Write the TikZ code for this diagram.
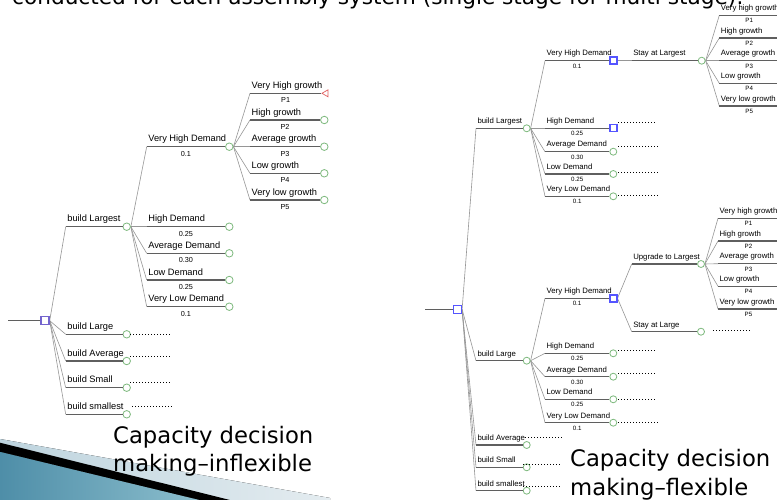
\documentclass[tikz,border=0pt]{standalone}
\usepackage{fontspec}
\setmainfont{Liberation Sans}
\newfontfamily\slidefont[Ligatures=TeX]{DejaVu Sans}
\usetikzlibrary{shapes.geometric}

\pgfdeclarelayer{back}
\pgfsetlayers{back,main}

\definecolor{linegray}{RGB}{95,95,95}
\definecolor{diaggray}{RGB}{150,150,150}
\definecolor{chancegreen}{RGB}{125,185,125}
\definecolor{choiceblue}{RGB}{85,85,255}
\definecolor{rootpurple}{RGB}{115,100,205}
\definecolor{endred}{RGB}{225,95,95}
\definecolor{tealdark}{RGB}{78,142,168}
\definecolor{teallight}{RGB}{140,190,205}
\definecolor{palegrid}{RGB}{190,212,222}
\definecolor{palegridlight}{RGB}{228,236,240}

\tikzset{
  hline/.style={draw=linegray,line width=1.3bp},
  diag/.style={draw=diaggray,line width=0.6bp},
  dots/.style={draw=black,line width=0.9bp,dash pattern=on 0.9bp off 2.1bp},
  chance/.style={circle,draw=chancegreen,fill=white,line width=0.8bp,inner sep=0pt,minimum size=7bp},
  choice/.style={rectangle,draw=choiceblue,fill=white,line width=1.4bp,inner sep=0pt,minimum size=7bp},
  endtri/.style={isosceles triangle,shape border rotate=180,isosceles triangle apex angle=60,
    draw=endred,fill=white,line width=0.7bp,inner sep=0pt,minimum height=6bp,minimum width=7bp},
  lab/.style={pos=0,anchor=south west,inner xsep=1bp},
  val/.style={pos=0.5,anchor=north,inner xsep=0pt},
  caption/.style={anchor=base west,inner sep=0pt,font=\slidefont\fontsize{22.8}{28}\selectfont}
}

\begin{document}
\begin{tikzpicture}[x=1bp,y=-1bp]
\useasboundingbox (0,0) rectangle (777,500);

\begin{pgfonlayer}{back}
\fill[white] (0,0) rectangle (777,500);
% slide decoration, bottom left
\fill[left color=palegrid,right color=palegridlight] (0,439) -- (330,498) -- (330,500) -- (0,500) -- cycle;
\fill[left color=tealdark,right color=teallight] (0,451.7) -- (200,500) -- (0,500) -- cycle;
\fill[black] (0,442.7) -- (230,500) -- (200,500) -- (0,451.7) -- cycle;
\end{pgfonlayer}

% heading, cut at the top
\node[anchor=base west,inner sep=0pt,font=\slidefont\fontsize{21.7}{26}\selectfont] (heading) at (12,5)
  {conducted for each assembly system (single stage for multi stage):};

%% ---------------- inflexible tree ----------------
\begin{scope}[lab/.append style={font=\fontsize{9.3}{11}\selectfont,inner ysep=2.3bp,text height=6.7bp,text depth=2bp},
              val/.append style={font=\fontsize{7.3}{9}\selectfont,inner ysep=3.8bp,text height=5.2bp,text depth=0pt}]

  \node[choice,draw=rootpurple,minimum size=8bp] (l-root) at (45,320.7) {};
  \coordinate (l-in) at (8,320.7);

  \coordinate (l-lst-s) at (65.7,226.7);
  \coordinate (l-lrg-s) at (65.7,334.3);
  \coordinate (l-avg-s) at (65.7,361);
  \coordinate (l-sml-s) at (65.7,387.7);
  \coordinate (l-smt-s) at (65.7,414.3);

  \coordinate (l-vhd-s) at (146.7,146.7);
  \coordinate (l-hd-s)  at (146.7,226.7);
  \coordinate (l-ad-s)  at (146.7,253.3);
  \coordinate (l-ld-s)  at (146.7,280);
  \coordinate (l-vld-s) at (146.7,306.7);

  \coordinate (l-g1-s) at (250,93.3);
  \coordinate (l-g2-s) at (250,120);
  \coordinate (l-g3-s) at (250,146.7);
  \coordinate (l-g4-s) at (250,173.3);
  \coordinate (l-g5-s) at (250,200);

  \begin{scope}[every node/.style={chance,minimum size=7.5bp}]
    \node (l-lst) at (126.7,226.7) {};
    \node (l-lrg) at (126.7,334.3) {};
    \node (l-avg) at (126.7,361)   {};
    \node (l-sml) at (126.7,387.7) {};
    \node (l-smt) at (126.7,414.3) {};
    \node (l-vhd) at (229.3,146.7) {};
    \node (l-hd)  at (229.3,226.7) {};
    \node (l-ad)  at (229.3,253.3) {};
    \node (l-ld)  at (229.3,280)   {};
    \node (l-vld) at (229.3,306.7) {};
    \node (l-g2)  at (324.3,120)   {};
    \node (l-g3)  at (324.3,146.7) {};
    \node (l-g4)  at (324.3,173.3) {};
    \node (l-g5)  at (324.3,200)   {};
  \end{scope}
  \node[endtri] (l-g1) at (326,93.3) {};

  \begin{pgfonlayer}{back}
  \begin{scope}[every path/.style={diag}]
    \draw (l-root.east) -- (l-lst-s);
    \draw (l-root.east) -- (l-lrg-s);
    \draw (l-root.east) -- (l-avg-s);
    \draw (l-root.east) -- (l-sml-s);
    \draw (l-root.east) -- (l-smt-s);
    \draw (l-lst.east) -- (l-vhd-s);
    \draw (l-lst.east) -- (l-hd-s);
    \draw (l-lst.east) -- (l-ad-s);
    \draw (l-lst.east) -- (l-ld-s);
    \draw (l-lst.east) -- (l-vld-s);
    \draw (l-vhd.east) -- (l-g1-s);
    \draw (l-vhd.east) -- (l-g2-s);
    \draw (l-vhd.east) -- (l-g3-s);
    \draw (l-vhd.east) -- (l-g4-s);
    \draw (l-vhd.east) -- (l-g5-s);
  \end{scope}
  \end{pgfonlayer}

  \begin{scope}[every edge/.style={hline}]
    \path (l-in) edge (l-root);
    \path (l-lst-s) edge node[lab] {build Largest} (l-lst);
    \path (l-lrg-s) edge node[lab] {build Large} (l-lrg);
    \path (l-avg-s) edge node[lab] {build Average} (l-avg);
    \path (l-sml-s) edge node[lab] {build Small} (l-sml);
    \path (l-smt-s) edge node[lab] {build smallest} (l-smt);
    \path (l-vhd-s) edge node[lab] {Very High Demand} node[val] {0.1}  (l-vhd);
    \path (l-hd-s)  edge node[lab] {High Demand}      node[val] {0.25} (l-hd);
    \path (l-ad-s)  edge node[lab] {Average Demand}   node[val] {0.30} (l-ad);
    \path (l-ld-s)  edge node[lab] {Low Demand}       node[val] {0.25} (l-ld);
    \path (l-vld-s) edge node[lab] {Very Low Demand}  node[val] {0.1}  (l-vld);
    \path (l-g1-s) edge node[lab] {Very High growth} node[val] {P1} (l-g1);
    \path (l-g2-s) edge node[lab] {High growth}      node[val] {P2} (l-g2);
    \path (l-g3-s) edge node[lab] {Average growth}   node[val] {P3} (l-g3);
    \path (l-g4-s) edge node[lab] {Low growth}       node[val] {P4} (l-g4);
    \path (l-g5-s) edge node[lab] {Very low growth}  node[val] {P5} (l-g5);
  \end{scope}

  % branches left open
  \coordinate (l-d1a) at (130,334);   \coordinate (l-d1b) at (170,334);
  \coordinate (l-d2a) at (130,356.7); \coordinate (l-d2b) at (170,356.7);
  \coordinate (l-d3a) at (130,382.3); \coordinate (l-d3b) at (170,382.3);
  \coordinate (l-d4a) at (132,406.7); \coordinate (l-d4b) at (172,406.7);
  \draw[dots] (l-d1a) -- (l-d1b);
  \draw[dots] (l-d2a) -- (l-d2b);
  \draw[dots] (l-d3a) -- (l-d3b);
  \draw[dots] (l-d4a) -- (l-d4b);
\end{scope}

\node[caption] (cap-l1) at (113,443.3) {Capacity decision};
\node[caption] (cap-l2) at (113,471)   {making--inflexible};

%% ---------------- flexible tree ----------------
\begin{scope}[hline/.append style={line width=1.2bp},
              lab/.append style={font=\fontsize{7.8}{9}\selectfont,inner ysep=2.4bp,text height=5.6bp,text depth=1.7bp},
              val/.append style={font=\fontsize{6.2}{7}\selectfont,inner ysep=2.6bp,text height=4.4bp,text depth=0pt}]

  \coordinate (r-in) at (425,309.3);

  \coordinate (r-lst-s) at (476,128.3);
  \coordinate (r-lrg-s) at (476,360.7);
  \coordinate (r-avg-s) at (476,445);
  \coordinate (r-sml-s) at (476,467.3);
  \coordinate (r-smt-s) at (476,490.7);

  % under build Largest
  \coordinate (a-vhd-s) at (545,60.7);
  \coordinate (a-hd-s)  at (545,128.3);
  \coordinate (a-ad-s)  at (545,151.7);
  \coordinate (a-ld-s)  at (545,174);
  \coordinate (a-vld-s) at (545,196.3);
  \coordinate (a-st-s)  at (631.7,60.7);
  \coordinate (a-g1-s) at (719.3,15.3);  \coordinate (a-g1) at (779,15.3);
  \coordinate (a-g2-s) at (719.3,38);    \coordinate (a-g2) at (779,38);
  \coordinate (a-g3-s) at (719.3,60.7);  \coordinate (a-g3) at (779,60.7);
  \coordinate (a-g4-s) at (719.3,83.3);  \coordinate (a-g4) at (779,83.3);
  \coordinate (a-g5-s) at (719.3,106);   \coordinate (a-g5) at (779,106);

  % under build Large
  \coordinate (b-vhd-s) at (545,298.3);
  \coordinate (b-hd-s)  at (545,353.3);
  \coordinate (b-ad-s)  at (545,376.7);
  \coordinate (b-ld-s)  at (545,399.3);
  \coordinate (b-vld-s) at (545,422.7);
  \coordinate (b-up-s)  at (631.7,264);
  \coordinate (b-st-s)  at (631.7,331.7);
  \coordinate (b-g1-s) at (718,218.3); \coordinate (b-g1) at (779,218.3);
  \coordinate (b-g2-s) at (718,241);   \coordinate (b-g2) at (779,241);
  \coordinate (b-g3-s) at (718,263.7); \coordinate (b-g3) at (779,263.7);
  \coordinate (b-g4-s) at (718,286.3); \coordinate (b-g4) at (779,286.3);
  \coordinate (b-g5-s) at (718,309);   \coordinate (b-g5) at (779,309);

  \begin{scope}[every node/.style={chance}]
    \node (r-lst) at (526.7,128.3) {};
    \node (r-lrg) at (526.7,360.7) {};
    \node (r-avg) at (526.7,445)   {};
    \node (r-sml) at (526.7,467.3) {};
    \node (r-smt) at (526.7,490.7) {};
    \node (a-ad)  at (613.3,151.7) {};
    \node (a-ld)  at (613.3,174)   {};
    \node (a-vld) at (613.3,196.3) {};
    \node (a-st)  at (701.7,60.7)  {};
    \node (b-hd)  at (613.3,353.3) {};
    \node (b-ad)  at (613.3,376.7) {};
    \node (b-ld)  at (613.3,399.3) {};
    \node (b-vld) at (613.3,422.7) {};
    \node (b-up)  at (701,264)     {};
    \node (b-st)  at (701,331.7)   {};
  \end{scope}

  \begin{scope}[every node/.style={choice}]
    \node[minimum size=8bp,line width=1.6bp] (r-root) at (457.3,309.3) {};
    \node (a-vhd) at (613.3,60.7)  {};
    \node (a-hd)  at (613.3,128.3) {};
    \node (b-vhd) at (613.3,298.3) {};
  \end{scope}

  \begin{pgfonlayer}{back}
  \begin{scope}[every path/.style={diag}]
    \draw (r-root.east) -- (r-lst-s);
    \draw (r-root.east) -- (r-lrg-s);
    \draw (r-root.east) -- (r-avg-s);
    \draw (r-root.east) -- (r-sml-s);
    \draw (r-root.east) -- (r-smt-s);
    \draw (r-lst.east) -- (a-vhd-s);
    \draw (r-lst.east) -- (a-hd-s);
    \draw (r-lst.east) -- (a-ad-s);
    \draw (r-lst.east) -- (a-ld-s);
    \draw (r-lst.east) -- (a-vld-s);
    \draw (a-vhd.east) -- (a-st-s);
    \draw (a-st.east) -- (a-g1-s);
    \draw (a-st.east) -- (a-g2-s);
    \draw (a-st.east) -- (a-g3-s);
    \draw (a-st.east) -- (a-g4-s);
    \draw (a-st.east) -- (a-g5-s);
    \draw (r-lrg.east) -- (b-vhd-s);
    \draw (r-lrg.east) -- (b-hd-s);
    \draw (r-lrg.east) -- (b-ad-s);
    \draw (r-lrg.east) -- (b-ld-s);
    \draw (r-lrg.east) -- (b-vld-s);
    \draw (b-vhd.east) -- (b-up-s);
    \draw (b-vhd.east) -- (b-st-s);
    \draw (b-up.east) -- (b-g1-s);
    \draw (b-up.east) -- (b-g2-s);
    \draw (b-up.east) -- (b-g3-s);
    \draw (b-up.east) -- (b-g4-s);
    \draw (b-up.east) -- (b-g5-s);
  \end{scope}
  \end{pgfonlayer}

  \begin{scope}[every edge/.style={hline}]
    \path (r-in) edge (r-root);
    \path (r-lst-s) edge node[lab] {build Largest} (r-lst);
    \path (r-lrg-s) edge node[lab] {build Large} (r-lrg);
    \path (r-avg-s) edge node[lab] {build Average} (r-avg);
    \path (r-sml-s) edge node[lab] {build Small} (r-sml);
    \path (r-smt-s) edge node[lab] {build smallest} (r-smt);

    \path (a-vhd-s) edge node[lab] {Very High Demand} node[val] {0.1}  (a-vhd);
    \path (a-hd-s)  edge node[lab] {High Demand}      node[val] {0.25} (a-hd);
    \path (a-ad-s)  edge node[lab] {Average Demand}   node[val] {0.30} (a-ad);
    \path (a-ld-s)  edge node[lab] {Low Demand}       node[val] {0.25} (a-ld);
    \path (a-vld-s) edge node[lab] {Very Low Demand}  node[val] {0.1}  (a-vld);
    \path (a-st-s)  edge node[lab] {Stay at Largest} (a-st);
    \path (a-g1-s) edge node[lab] {Very high growth} node[val] {P1} (a-g1);
    \path (a-g2-s) edge node[lab] {High growth}      node[val] {P2} (a-g2);
    \path (a-g3-s) edge node[lab] {Average growth}   node[val] {P3} (a-g3);
    \path (a-g4-s) edge node[lab] {Low growth}       node[val] {P4} (a-g4);
    \path (a-g5-s) edge node[lab] {Very low growth}  node[val] {P5} (a-g5);

    \path (b-vhd-s) edge node[lab] {Very High Demand} node[val] {0.1}  (b-vhd);
    \path (b-hd-s)  edge node[lab] {High Demand}      node[val] {0.25} (b-hd);
    \path (b-ad-s)  edge node[lab] {Average Demand}   node[val] {0.30} (b-ad);
    \path (b-ld-s)  edge node[lab] {Low Demand}       node[val] {0.25} (b-ld);
    \path (b-vld-s) edge node[lab] {Very Low Demand}  node[val] {0.1}  (b-vld);
    \path (b-up-s)  edge node[lab] {Upgrade to Largest} (b-up);
    \path (b-st-s)  edge node[lab] {Stay at Large} (b-st);
    \path (b-g1-s) edge node[lab] {Very high growth} node[val] {P1} (b-g1);
    \path (b-g2-s) edge node[lab] {High growth}      node[val] {P2} (b-g2);
    \path (b-g3-s) edge node[lab] {Average growth}   node[val] {P3} (b-g3);
    \path (b-g4-s) edge node[lab] {Low growth}       node[val] {P4} (b-g4);
    \path (b-g5-s) edge node[lab] {Very low growth}  node[val] {P5} (b-g5);
  \end{scope}

  % branches left open
  \coordinate (r-d1a) at (618,122.7);   \coordinate (r-d1b) at (657,122.7);
  \coordinate (r-d2a) at (618,146);     \coordinate (r-d2b) at (658,146);
  \coordinate (r-d3a) at (618,172);     \coordinate (r-d3b) at (658,172);
  \coordinate (r-d4a) at (618,195);     \coordinate (r-d4b) at (658,195);
  \coordinate (r-d5a) at (713,330.7);   \coordinate (r-d5b) at (751.7,330.7);
  \coordinate (r-d6a) at (618,350.7);   \coordinate (r-d6b) at (657,350.7);
  \coordinate (r-d7a) at (618,373.3);   \coordinate (r-d7b) at (657,373.3);
  \coordinate (r-d8a) at (618,399);     \coordinate (r-d8b) at (657,399);
  \coordinate (r-d9a) at (618,422.7);   \coordinate (r-d9b) at (658,422.7);
  \coordinate (r-d10a) at (525,437.3);  \coordinate (r-d10b) at (562,437.3);
  \coordinate (r-d11a) at (523,464);    \coordinate (r-d11b) at (561,464);
  \coordinate (r-d12a) at (523,486.7);  \coordinate (r-d12b) at (561,486.7);
  \draw[dots] (r-d1a) -- (r-d1b);
  \draw[dots] (r-d2a) -- (r-d2b);
  \draw[dots] (r-d3a) -- (r-d3b);
  \draw[dots] (r-d4a) -- (r-d4b);
  \draw[dots] (r-d5a) -- (r-d5b);
  \draw[dots] (r-d6a) -- (r-d6b);
  \draw[dots] (r-d7a) -- (r-d7b);
  \draw[dots] (r-d8a) -- (r-d8b);
  \draw[dots] (r-d9a) -- (r-d9b);
  \draw[dots] (r-d10a) -- (r-d10b);
  \draw[dots] (r-d11a) -- (r-d11b);
  \draw[dots] (r-d12a) -- (r-d12b);
\end{scope}

\node[caption] (cap-r1) at (570,466.7) {Capacity decision};
\node[caption] (cap-r2) at (570,495)   {making--flexible};

\end{tikzpicture}
\end{document}
